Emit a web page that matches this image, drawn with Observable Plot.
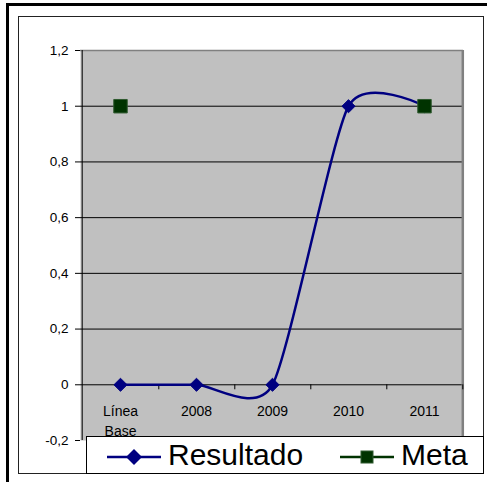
<!DOCTYPE html>
<html>
<head>
<meta charset="utf-8">
<script src="https://cdn.jsdelivr.net/npm/d3@7"></script>
<script src="https://cdn.jsdelivr.net/npm/@observablehq/plot@0.6"></script>
<style>
  html, body { margin: 0; padding: 0; background: #fff; }
  #wrap { position: relative; width: 487px; height: 482px; overflow: hidden; font-family: "Liberation Sans", Arial, sans-serif; }
  #wrap svg { position: absolute; left: 0; top: 0; }
  .outer { position: absolute; left: 6px; top: 3px; width: 520px; height: 520px; border: 3px solid #000; box-sizing: border-box; }
  .inner { position: absolute; left: 18px; top: 16px; width: 466px; height: 458px; border: 1px solid #222; box-sizing: border-box; pointer-events: none; }
  .legend { position: absolute; left: 86px; top: 436px; width: 398px; height: 38px; background: #fff; border: 1px solid #000; box-sizing: border-box; }
  .legend .item { position: absolute; top: 0; height: 36px; display: flex; align-items: center; }
  .legend .item span { font-size: 30px; line-height: 36px; color: #000; margin-left: 7px; }
</style>
</head>
<body>
<div id="wrap">
  <div class="outer"></div>
</div>
<script>
const categories = ["Línea Base", "2008", "2009", "2010", "2011"];
const xLabels = ["Línea\nBase", "2008", "2009", "2010", "2011"];
const resultado = [0, 0, 0, 1, 1];
const meta = [1, null, null, null, 1];
const yTicks = [-0.2, 0, 0.2, 0.4, 0.6, 0.8, 1, 1.2];
const seriesNames = ["Resultado", "Meta"];
const seriesColors = ["#000080", "#003300"];

const rows = categories.map((c, i) => ({cat: c, label: xLabels[i], resultado: resultado[i], meta: meta[i]}));

const W = 487, H = 482, mL = 80, mR = 24, mT = 50, mB = 42;
const bw = (W - mL - mR) / categories.length;
const fmt = d => String(d).replace(".", ",");

const chart = Plot.plot({
  width: W, height: H,
  marginLeft: mL, marginRight: mR, marginTop: mT, marginBottom: mB,
  style: {background: "transparent", fontFamily: "Liberation Sans, Arial, sans-serif", color: "#000"},
  x: {type: "band", domain: categories, padding: 0, axis: null},
  y: {domain: [yTicks[0], yTicks[yTicks.length - 1]], axis: null},
  marks: [
    Plot.frame({fill: "#c0c0c0", stroke: null}),
    Plot.ruleY(yTicks.filter(d => d > yTicks[0] && d < yTicks[yTicks.length - 1]), {stroke: "#000", strokeWidth: 1}),
    Plot.ruleY([yTicks[yTicks.length - 1]], {stroke: "#808080", strokeWidth: 1.5}),
    Plot.ruleX([categories[categories.length - 1]], {dx: bw / 2, stroke: "#808080", strokeWidth: 2.5}),
    Plot.ruleX([categories[0]], {dx: -bw / 2, stroke: "#000", strokeWidth: 1}),
    Plot.ruleX(categories, {dx: bw / 2, y1: 0, y2: 0, insetBottom: -5, stroke: "#000"}),
    Plot.axisY({ticks: yTicks, tickFormat: fmt, tickSize: 5, tickPadding: 7, fontSize: 13.5, stroke: "#000", fill: "#000"}),
    Plot.text(rows, {x: "cat", y: 0, text: "label", dy: 17, lineAnchor: "top", fontSize: 14, lineHeight: 1.45, fill: "#000"}),
    Plot.line(rows, {x: "cat", y: "resultado", curve: d3.curveCardinal.tension(0.35), stroke: seriesColors[0], strokeWidth: 2.5}),
    Plot.dot(rows, {x: "cat", y: "resultado", symbol: "diamond2", r: 5.9, fill: seriesColors[0], stroke: seriesColors[0], strokeWidth: 1}),
    Plot.line(rows, {x: "cat", y: "meta", stroke: seriesColors[1], strokeWidth: 2.5}),
    Plot.dot(rows.filter(d => d.meta != null), {x: "cat", y: "meta", symbol: "square", r: 7.6, fill: seriesColors[1], stroke: "#2f5a2f", strokeWidth: 1})
  ]
});

const wrap = document.getElementById("wrap");
wrap.appendChild(chart);

const inner = document.createElement("div");
inner.className = "inner";
wrap.appendChild(inner);

const legend = document.createElement("div");
legend.className = "legend";
const ns = "http://www.w3.org/2000/svg";
const legendX = [20, 253];
seriesNames.forEach((name, i) => {
  const item = document.createElement("div");
  item.className = "item";
  item.style.left = legendX[i] + "px";
  const svg = document.createElementNS(ns, "svg");
  svg.setAttribute("width", 54);
  svg.setAttribute("height", 36);
  svg.style.position = "static";
  const line = document.createElementNS(ns, "line");
  line.setAttribute("x1", 0); line.setAttribute("x2", 54);
  line.setAttribute("y1", 20); line.setAttribute("y2", 20);
  line.setAttribute("stroke", seriesColors[i]); line.setAttribute("stroke-width", 2.5);
  svg.appendChild(line);
  if (i === 0) {
    const p = document.createElementNS(ns, "path");
    p.setAttribute("d", "M27,12L35,20L27,28L19,20Z");
    p.setAttribute("fill", seriesColors[i]);
    svg.appendChild(p);
  } else {
    const r = document.createElementNS(ns, "rect");
    r.setAttribute("x", 21); r.setAttribute("y", 14); r.setAttribute("width", 12); r.setAttribute("height", 12);
    r.setAttribute("fill", seriesColors[i]); r.setAttribute("stroke", "#2f5a2f");
    svg.appendChild(r);
  }
  item.appendChild(svg);
  const t = document.createElement("span");
  t.textContent = name;
  item.appendChild(t);
  legend.appendChild(item);
});
wrap.appendChild(legend);
</script>
</body>
</html>
